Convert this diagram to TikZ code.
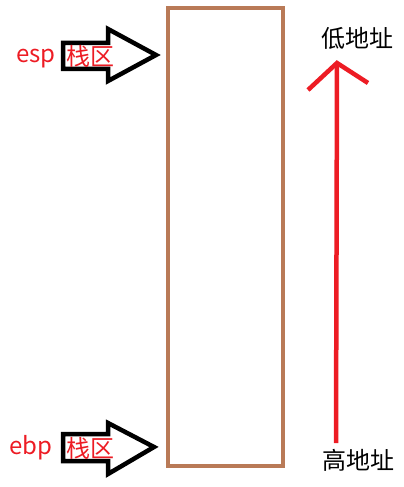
\documentclass[tikz,border=0pt]{standalone}
\usepackage{fontspec}
\setmainfont{Noto Sans CJK SC}
\definecolor{boxbrown}{RGB}{185,122,87}
\definecolor{pred}{RGB}{237,28,36}
\begin{document}
\begin{tikzpicture}[x=1pt,y=-1pt,
  blockarrow/.style={draw=black,line width=4.5pt,line join=miter,fill=white},
  redtxt/.style={text=pred,font=\fontsize{24}{27}\selectfont,inner sep=0pt},
  blktxt/.style={text=black,font=\fontsize{24}{27}\selectfont,inner sep=0pt}]
\useasboundingbox (0,0) rectangle (404,487);
% stack box
\draw[boxbrown,line width=4pt] (168,8) rectangle (283,466);
% top block arrow
\draw[blockarrow] (63,43) -- (108,43) -- (108,29) -- (156,55) -- (108,81) -- (108,69) -- (63,69) -- cycle;
\node[redtxt,anchor=base west] (esp) at (16,63) {esp};
\node[redtxt,anchor=west] (ztop) at (66,56) {栈区};
% bottom block arrow
\draw[blockarrow] (63,434) -- (108,434) -- (108,423) -- (154,447) -- (108,474) -- (108,461) -- (63,461) -- cycle;
\node[redtxt,anchor=base west] (ebp) at (9,454) {ebp};
\node[redtxt,anchor=west] (zbot) at (66,448) {栈区};
% address labels
\node[blktxt] (low) at (357,38) {低地址};
\node[blktxt] (high) at (358,460) {高地址};
% red arrow
\coordinate (rb) at (336,443);
\coordinate (rt) at (337,63);
\draw[pred,line width=4.5pt] (rb) -- (rt);
\draw[pred,line width=4.5pt,line join=miter] (308,90) -- (rt) -- (368,83);
\end{tikzpicture}
\end{document}
